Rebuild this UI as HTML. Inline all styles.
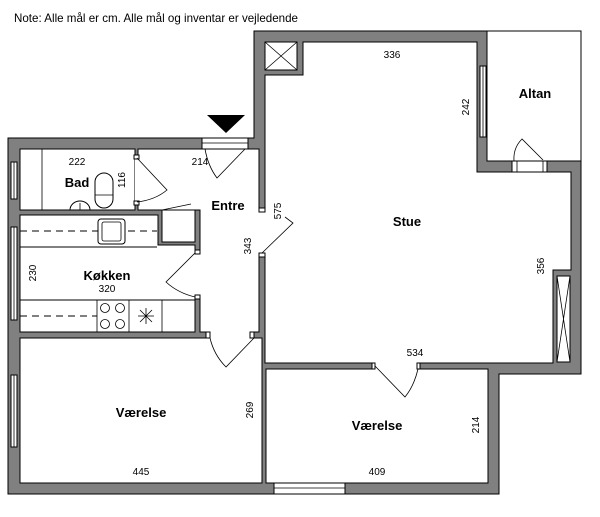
<!DOCTYPE html>
<html><head><meta charset="utf-8"><style>
html,body{margin:0;padding:0;background:#fff;}
svg{display:block;font-family:"Liberation Sans",sans-serif;}
.w{fill:#fff;stroke:#000;stroke-width:1}
.l{fill:none;stroke:#000;stroke-width:0.8}
.t{font-size:10px;fill:#000}
.b{font-size:13px;font-weight:bold;fill:#000}
</style></head><body>
<svg width="600" height="517" viewBox="0 0 600 517">
<text x="14" y="22" font-size="12" textLength="284" lengthAdjust="spacingAndGlyphs">Note: Alle mål er cm. Alle mål og inventar er vejledende</text>
<polygon points="254,31 487,31 487,161 581,161 581,374 499,374 499,494 8,494 8,138 254,138" fill="#808080" stroke="#000"/>
<rect x="487" y="31" width="94" height="130" fill="#fff" stroke="#000"/>
<polygon class="w" points="303,42 477,42 477,172 571,172 571,270 553,270 553,363 265,363 265,75 303,75"/>
<rect class="w" x="265" y="42" width="32" height="28"/>
<path class="l" d="M265,42 L297,70 M297,42 L265,70"/>
<polygon class="w" points="138,149 259,149 259,332 200,332 200,210 138,210"/>
<rect class="w" x="20" y="149" width="115" height="61"/>
<line class="l" x1="42" y1="149" x2="42" y2="210"/>
<polygon class="w" points="20,215 158,215 158,245 195,245 195,332 20,332"/>
<rect class="w" x="162" y="210" width="33" height="32"/>
<line class="l" x1="162" y1="210" x2="191" y2="204"/>
<rect class="w" x="20" y="338" width="242" height="145"/>
<rect class="w" x="266" y="369" width="222" height="114"/>
<rect class="w" x="557" y="276" width="13" height="86"/>
<path class="l" d="M557,276 L570,362 M570,276 L557,362"/>
<g fill="#fff" stroke="none">
<rect x="135" y="158" width="4" height="44"/>
<rect x="258" y="212" width="8" height="41"/>
<rect x="194" y="253" width="7" height="43"/>
<rect x="210" y="331" width="44" height="8"/>
<rect x="375" y="362" width="43" height="8"/>
</g>
<g class="w">
<rect x="134" y="155" width="5" height="4"/><rect x="134" y="201" width="5" height="4"/>
<rect x="259" y="208" width="6" height="4"/><rect x="259" y="253" width="6" height="4"/>
<rect x="195" y="250" width="5" height="4"/><rect x="195" y="295" width="5" height="4"/>
<rect x="206" y="332" width="4" height="6"/><rect x="250" y="332" width="4" height="6"/>
<rect x="372" y="363" width="3" height="6"/><rect x="417" y="363" width="3" height="6"/>
</g>
<g class="w">
<rect x="202" y="138" width="46" height="11"/>
<rect x="11" y="162" width="6" height="37"/>
<rect x="11" y="227" width="6" height="93"/>
<rect x="11" y="375" width="6" height="72"/>
<rect x="480" y="66" width="6" height="71"/>
<rect x="512" y="161" width="35" height="11"/>
<rect x="274" y="483" width="71" height="11"/>
</g>
<g class="l">
<line x1="202" y1="143" x2="248" y2="143"/>
<line x1="14" y1="162" x2="14" y2="199"/>
<line x1="14" y1="227" x2="14" y2="320"/>
<line x1="14" y1="375" x2="14" y2="447"/>
<line x1="483" y1="66" x2="483" y2="137"/>
<line x1="517" y1="161" x2="517" y2="172"/><line x1="543" y1="161" x2="543" y2="172"/>
<line x1="274" y1="488" x2="345" y2="488"/>
</g>
<g class="l">
<path d="M245,149 L217,178 Q208,166 205,149"/>
<path d="M137,158 L167,190 Q155,200 137,202"/>
<path d="M262,253 L293,223 L285,217"/>
<path d="M195,253 L166,282 Q178,293 195,297"/>
<path d="M254,338 L226,367 Q214,355 210,338"/>
<path d="M375,366 L405,397 Q414,386 418,369"/>
<path d="M543,160 L522,139 Q513,148 514,161"/>
</g>
<polygon points="207,115 245,115 226,133" fill="#000"/>
<rect class="w" x="95" y="173" width="18" height="35" rx="9"/>
<line class="l" x1="95" y1="195" x2="113" y2="195"/>
<path class="w" d="M70,210 A10,9 0 0 1 90,210 Z"/>
<line class="l" x1="80" y1="203" x2="80" y2="210"/>
<line x1="20" y1="247" x2="157" y2="247" stroke="#000"/>
<line x1="20" y1="231" x2="157" y2="231" stroke="#000" stroke-dasharray="7,5"/>
<rect class="w" x="98" y="219" width="27" height="25" rx="3"/>
<rect class="l" x="102" y="222" width="19" height="19" rx="2"/>
<line x1="20" y1="300" x2="195" y2="300" stroke="#000"/>
<line x1="20" y1="316" x2="97" y2="316" stroke="#000" stroke-dasharray="7,5"/>
<rect class="l" x="97" y="300" width="32" height="32"/>
<line class="l" x1="162" y1="300" x2="162" y2="332"/>
<g class="l"><circle cx="105" cy="308" r="4.5"/><circle cx="120" cy="308" r="4.5"/><circle cx="105" cy="324" r="4.5"/><circle cx="120" cy="324" r="4.5"/></g>
<path class="l" d="M146,308 L146,324 M138,316 L154,316 M140,310 L152,322 M152,310 L140,322"/>
<g class="t" text-anchor="middle">
<text x="77" y="165">222</text>
<text x="200" y="165">214</text>
<text x="107" y="292">320</text>
<text x="392" y="58">336</text>
<text x="415" y="356">534</text>
<text x="141" y="475">445</text>
<text x="377" y="475">409</text>
<text transform="translate(125,180) rotate(-90)">116</text>
<text transform="translate(281,211) rotate(-90)">575</text>
<text transform="translate(251,246) rotate(-90)">343</text>
<text transform="translate(36,273) rotate(-90)">230</text>
<text transform="translate(469,107) rotate(-90)">242</text>
<text transform="translate(544,266) rotate(-90)">356</text>
<text transform="translate(253,410) rotate(-90)">269</text>
<text transform="translate(479,425) rotate(-90)">214</text>
</g>
<g class="b" text-anchor="middle">
<text x="77" y="187">Bad</text>
<text x="228" y="210">Entre</text>
<text x="107" y="280">Køkken</text>
<text x="407" y="226">Stue</text>
<text x="535" y="98">Altan</text>
<text x="141" y="417">Værelse</text>
<text x="377" y="430">Værelse</text>
</g>
</svg>
</body></html>
